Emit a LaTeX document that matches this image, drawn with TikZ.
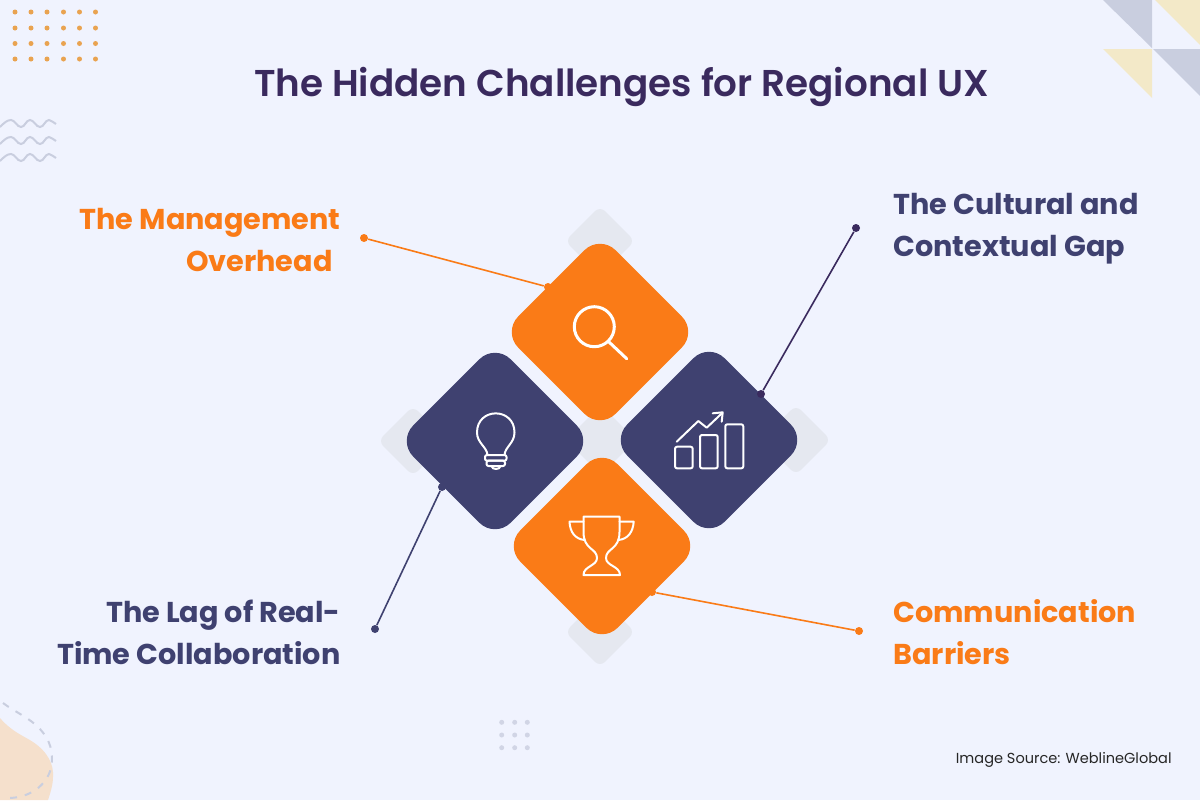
\documentclass[tikz,border=0pt]{standalone}
\usepackage{fontspec}
\setmainfont{Poppins}[BoldFont={Poppins SemiBold}]
\newfontfamily\headfont{Poppins}[UprightFont={Poppins Bold}]
\usetikzlibrary{shapes.geometric}
\newlength{\du}
\setlength{\du}{0.5pt}
\definecolor{pagecolor}{HTML}{F0F3FE}
\definecolor{orangecolor}{HTML}{FA7B17}
\definecolor{navycolor}{HTML}{3F4170}
\definecolor{titlecolor}{HTML}{3A2A5E}
\definecolor{palegray}{HTML}{E5E8F0}
\definecolor{slatecolor}{HTML}{C9CEDF}
\definecolor{creamcolor}{HTML}{F3E9C8}
\definecolor{peachcolor}{HTML}{F5E0CC}
\definecolor{dotcolor}{HTML}{E9A350}
\tikzset{
  bigdiamond/.style={diamond,aspect=1,inner sep=0pt,minimum size=195\du,rounded corners=22\du},
  smalldiamond/.style={diamond,aspect=1,inner sep=0pt,fill=palegray,minimum size=70\du,rounded corners=7\du},
  enddot/.style={circle,inner sep=0pt,minimum size=8\du},
  heading/.style={font=\headfont\fontsize{14.35}{21}\selectfont,align=left,inner sep=0pt},
  iconline/.style={draw=white,line width=1pt,line join=round,line cap=round},
}
\begin{document}
\begin{tikzpicture}
  \pgftransformyscale{-1.000000}
  \useasboundingbox (0\du,0\du) rectangle (1200\du,800\du);
  \fill[pagecolor] (0\du,0\du) rectangle (1200\du,800\du);
  % corner triangles
  \fill[slatecolor] (1103\du,0\du)--(1152\du,0\du)--(1152\du,48\du)--cycle;
  \fill[creamcolor] (1155\du,0\du)--(1200\du,0\du)--(1200\du,45\du)--cycle;
  \fill[creamcolor] (1103\du,49\du)--(1152\du,49\du)--(1152\du,98\du)--cycle;
  \fill[slatecolor] (1153\du,49\du)--(1200\du,49\du)--(1200\du,96\du)--cycle;
  % dots
  \foreach \x in {15,31,47,63.5,79.5,95.5}
    \foreach \y in {12,28,43.5,59}
      \fill[dotcolor] (\x\du,\y\du) circle (2.5\du);
  \foreach \x in {501.7,514.7,527.3}
    \foreach \y in {722.3,735,747.7}
      \fill[slatecolor!80!pagecolor] (\x\du,\y\du) circle (2.5\du);
  % waves
  \foreach \y in {124,141,158}
    \draw[slatecolor,line width=1pt] (0\du,\y\du+3\du)
      .. controls (4\du,\y\du-1\du) and (7\du,\y\du-4\du) .. (11\du,\y\du-4\du)
      .. controls (15\du,\y\du-4\du) and (17\du,\y\du+3\du) .. (21\du,\y\du+3\du)
      .. controls (25\du,\y\du+3\du) and (26\du,\y\du-4\du) .. (30\du,\y\du-4\du)
      .. controls (34\du,\y\du-4\du) and (36\du,\y\du+3\du) .. (40\du,\y\du+3\du)
      .. controls (44\du,\y\du+3\du) and (45\du,\y\du-4\du) .. (49\du,\y\du-4\du)
      .. controls (52\du,\y\du-4\du) and (53\du,\y\du-1\du) .. (56\du,\y\du);
  % blob
  \fill[peachcolor] (0\du,718\du) .. controls (12\du,732\du) and (24\du,736\du) .. (33\du,742\du)
    .. controls (48\du,752\du) and (54\du,765\du) .. (53\du,777\du)
    .. controls (53\du,785\du) and (50\du,794\du) .. (48\du,800\du) -- (0\du,800\du) -- cycle;
  \draw[slatecolor,line width=1pt,dash pattern=on 3.5pt off 4pt] (3\du,703\du)
    .. controls (15\du,712\du) and (30\du,718\du) .. (40\du,729\du)
    .. controls (50\du,740\du) and (54\du,752\du) .. (51\du,768\du)
    .. controls (47\du,785\du) and (30\du,798\du) .. (8\du,798\du);
  % backing diamonds
  \node[smalldiamond] (backtop) at (600\du,241\du) {};
  \node[smalldiamond] (backleft) at (413\du,441\du) {};
  \node[smalldiamond] (backright) at (796\du,440\du) {};
  \node[smalldiamond] (backbottom) at (600\du,632\du) {};
  \node[smalldiamond] (backcentre) at (601\du,440\du) {};
  % main diamonds
  \node[bigdiamond,fill=orangecolor] (search) at (600\du,332\du) {};
  \node[bigdiamond,fill=navycolor] (bulb) at (495\du,441\du) {};
  \node[bigdiamond,fill=navycolor] (chart) at (709\du,440\du) {};
  \node[bigdiamond,fill=orangecolor] (trophy) at (602\du,546\du) {};
  % connectors
  \node[enddot,fill=orangecolor] (managedot) at (364\du,238\du) {};
  \node[enddot,fill=orangecolor] (managetip) at (548\du,287\du) {};
  \node[enddot,fill=titlecolor] (culturedot) at (856\du,228\du) {};
  \node[enddot,fill=titlecolor] (culturetip) at (761\du,394\du) {};
  \node[enddot,fill=navycolor] (lagdot) at (375\du,629\du) {};
  \node[enddot,fill=navycolor] (lagtip) at (442\du,487\du) {};
  \node[enddot,fill=orangecolor] (commdot) at (859\du,631\du) {};
  \node[enddot,fill=orangecolor] (commtip) at (652\du,592\du) {};
  \draw[orangecolor,line width=0.8pt] (managedot)--(managetip);
  \draw[titlecolor,line width=0.8pt] (culturedot)--(culturetip);
  \draw[navycolor,line width=0.8pt] (lagdot)--(lagtip);
  \draw[orangecolor,line width=0.8pt] (commdot)--(commtip);
  % magnifier
  \draw[iconline,line width=1.5pt] (594.3\du,326.7\du) circle (20\du);
  \draw[iconline,line width=1.5pt] (608.7\du,341.7\du)--(626.7\du,358.7\du);
  % chart icon
  \draw[iconline,rounded corners=2\du] (675\du,446.7\du) rectangle (692.7\du,468.3\du);
  \draw[iconline,rounded corners=2\du] (700\du,435\du) rectangle (717.7\du,468.3\du);
  \draw[iconline,rounded corners=2\du] (725.3\du,424.3\du) rectangle (743.3\du,468.3\du);
  \draw[iconline] (676.7\du,441.7\du)--(698.3\du,421\du)--(706.7\du,427.7\du)--(722.2\du,413\du);
  \draw[iconline] (712.7\du,413.3\du)--(722.7\du,412.3\du)--(721.7\du,421.7\du);
  % bulb icon
  \draw[iconline] (487.5\du,455\du) .. controls (487\du,447\du) and (477\du,443\du) .. (477\du,432.5\du)
    .. controls (477\du,407\du) and (514.5\du,407\du) .. (514.5\du,432.5\du)
    .. controls (514.5\du,443\du) and (505\du,447\du) .. (504.5\du,455\du);
  \draw[iconline,rounded corners=2\du] (485\du,455\du) rectangle (506.5\du,460.7\du);
  \draw[iconline,rounded corners=2\du] (486.5\du,460.7\du) rectangle (505\du,466\du);
  \draw[iconline] (491.5\du,466\du) .. controls (492\du,470\du) and (500\du,470\du) .. (500.5\du,466\du);
  % trophy icon
  \draw[iconline] (583.5\du,516.7\du)--(619.5\du,516.7\du)--(619.5\du,532\du)
    .. controls (619.5\du,550\du) and (606\du,548\du) .. (606\du,558\du)
    .. controls (606\du,566\du) and (620\du,566\du) .. (620\du,575\du)
    --(583.5\du,575\du)
    .. controls (583.5\du,566\du) and (597\du,566\du) .. (597\du,558\du)
    .. controls (597\du,548\du) and (583.5\du,550\du) .. (583.5\du,532\du)--cycle;
  \draw[iconline] (583.5\du,521.7\du)--(569.5\du,521.7\du)
    .. controls (570\du,532\du) and (575\du,539\du) .. (584.5\du,540\du);
  \draw[iconline] (619.5\du,521.7\du)--(633.7\du,521.7\du)
    .. controls (633\du,532\du) and (628\du,539\du) .. (618.5\du,540\du);
  % text
  \node[heading,text=titlecolor,font=\bfseries\fontsize{18.66}{22}\selectfont] (title) at (621.5\du,87\du) {The Hidden Challenges for Regional UX};
  \node[heading,text=orangecolor,anchor=east,align=right] (managetext) at (341\du,240\du) {The Management\\Overhead\hspace*{8\du}};
  \node[heading,text=navycolor,anchor=west] (culturetext) at (893\du,229\du) {The Cultural and\\Contextual Gap};
  \node[heading,text=navycolor,anchor=east,align=right] (lagtext) at (341\du,632\du) {The Lag of Real-\\Time Collaboration};
  \node[heading,text=orangecolor,anchor=west] (commtext) at (893\du,632\du) {Communication\\Barriers};
  \node[text=black!85,font=\fontsize{7.27}{9}\selectfont,anchor=east,inner sep=0pt] (sourcetext) at (1172\du,760\du) {Image Source: WeblineGlobal};
\end{tikzpicture}
\end{document}
